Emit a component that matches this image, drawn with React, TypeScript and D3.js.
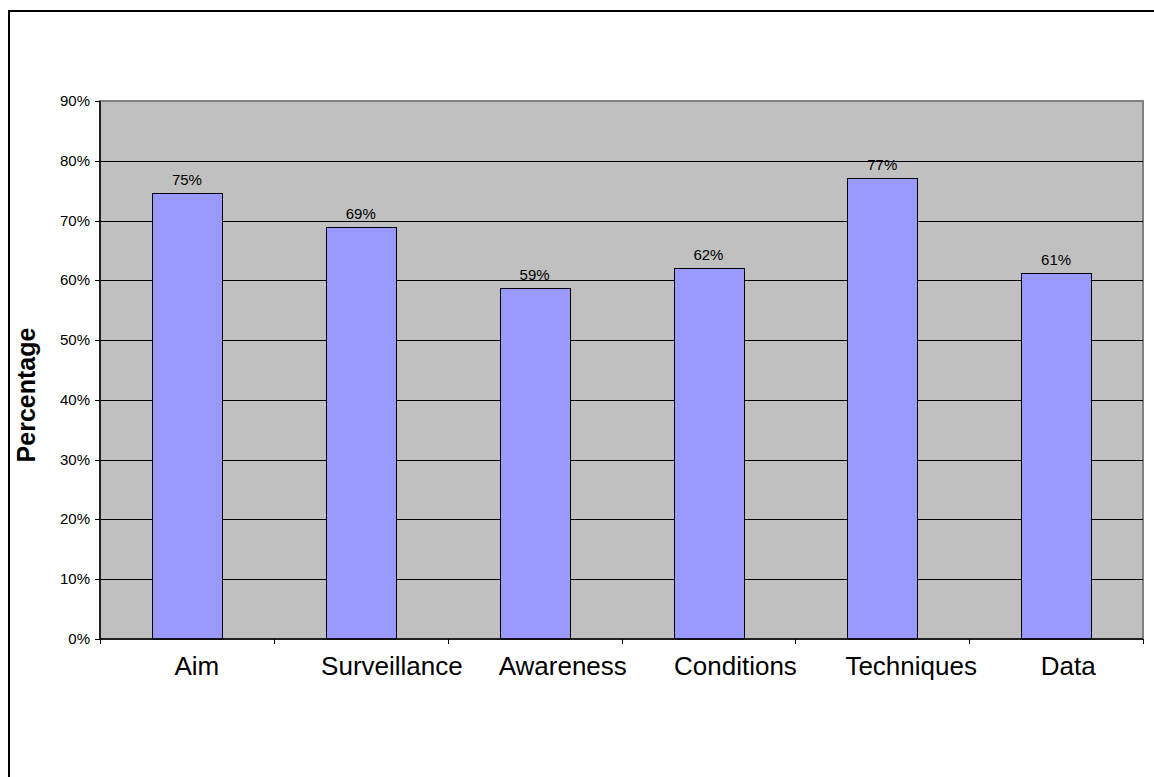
import React from "react";
import * as d3 from "d3";

const categories = ["Aim", "Surveillance", "Awareness", "Conditions", "Techniques", "Data"];
const values = [74.6, 69.0, 58.7, 62.1, 77.1, 61.3];
const yTicks = [0, 10, 20, 30, 40, 50, 60, 70, 80, 90];
const yTitle = "Percentage";

const W = 1154;
const H = 777;
const plot = { left: 100, right: 1143, top: 101, bottom: 639 };
const FONT = "'Liberation Sans', Arial, sans-serif";
const CAT_SIZE = 26;

function measure(text: string, size: number): number {
  try {
    const ctx = document.createElement("canvas").getContext("2d");
    if (ctx) {
      ctx.font = `${size}px 'Liberation Sans', Arial, sans-serif`;
      return ctx.measureText(text).width;
    }
  } catch (e) {}
  return text.length * size * 0.5;
}

export default function App() {
  const x = d3
    .scaleBand<string>()
    .domain(categories)
    .range([plot.left, plot.right])
    .paddingInner(0.6)
    .paddingOuter(0.3);
  const y = d3.scaleLinear().domain([0, 90]).range([plot.bottom, plot.top]);
  const step = x.step();
  const boundaries = d3.range(categories.length + 1).map((i) => plot.left + i * step);

  return (
    <svg
      width={W}
      height={H}
      style={{ position: "absolute", left: 0, top: 0, background: "#fff" }}
      fontFamily={FONT}
    >
      <rect x={0} y={0} width={W} height={H} fill="#fff" />
      {/* outer chart border */}
      <rect x={9} y={11} width={W + 50} height={H + 50} fill="none" stroke="#000" strokeWidth={2} />

      {/* plot area */}
      <rect
        x={plot.left}
        y={plot.top}
        width={plot.right - plot.left}
        height={plot.bottom - plot.top}
        fill="#C0C0C0"
        stroke="#808080"
        strokeWidth={2}
      />

      {/* gridlines */}
      {yTicks
        .filter((t) => t > 0 && t < 90)
        .map((t) => (
          <line
            key={"g" + t}
            x1={plot.left}
            x2={plot.right}
            y1={Math.round(y(t)) + 0.5}
            y2={Math.round(y(t)) + 0.5}
            stroke="#000"
            strokeWidth={1}
          />
        ))}

      {/* bars */}
      {categories.map((c, i) => {
        const bx = x(c)!;
        const top = y(values[i]);
        return (
          <g key={c}>
            <rect
              x={Math.round(bx) + 0.5}
              y={Math.round(top) + 0.5}
              width={Math.round(x.bandwidth())}
              height={plot.bottom - Math.round(top) - 0.5}
              fill="#9999FF"
              stroke="#000"
              strokeWidth={1}
            />
            <text
              x={bx + x.bandwidth() / 2}
              y={top - 8}
              textAnchor="middle"
              fontSize={15}
              fill="#000"
            >
              {Math.round(values[i]) + "%"}
            </text>
          </g>
        );
      })}

      {/* axes */}
      <line x1={plot.left} x2={plot.left} y1={plot.top} y2={plot.bottom} stroke="#000" strokeWidth={1.5} />
      <line x1={plot.left} x2={plot.right} y1={plot.bottom} y2={plot.bottom} stroke="#000" strokeWidth={1.5} />

      {/* y ticks and labels */}
      {yTicks.map((t) => (
        <g key={"y" + t}>
          <line
            x1={plot.left - 5}
            x2={plot.left}
            y1={Math.round(y(t)) + 0.5}
            y2={Math.round(y(t)) + 0.5}
            stroke="#000"
          />
          <text x={plot.left - 10} y={y(t) + 5} textAnchor="end" fontSize={15} fill="#000">
            {t + "%"}
          </text>
        </g>
      ))}

      {/* x ticks */}
      {boundaries.map((bx, i) => (
        <line
          key={"xt" + i}
          x1={Math.round(bx) + 0.5}
          x2={Math.round(bx) + 0.5}
          y1={plot.bottom}
          y2={plot.bottom + 5}
          stroke="#000"
        />
      ))}

      {/* category labels (drawn slightly right of centre, as in the reference) */}
      {categories.map((c) => {
        const w = measure(c, CAT_SIZE);
        const cx = x(c)! + x.bandwidth() / 2;
        return (
          <text
            key={"c" + c}
            x={cx - 0.28 * w}
            y={675}
            textAnchor="start"
            fontSize={CAT_SIZE}
            fill="#000"
          >
            {c}
          </text>
        );
      })}

      {/* y title */}
      <text
        transform={`translate(35,395) rotate(-90)`}
        textAnchor="middle"
        fontSize={25}
        fontWeight="bold"
        fill="#000"
      >
        {yTitle}
      </text>
    </svg>
  );
}
